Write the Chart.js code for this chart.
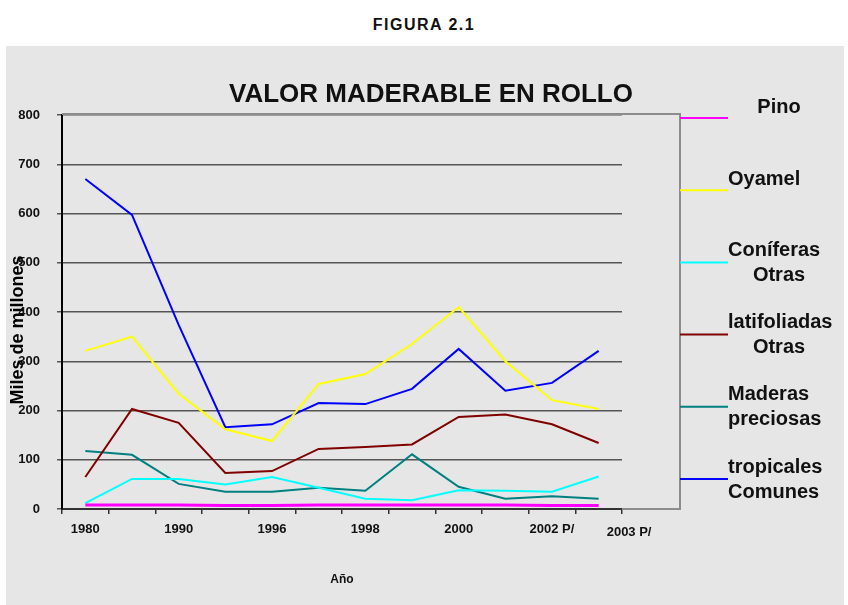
<!DOCTYPE html>
<html>
<head>
<meta charset="utf-8">
<script src="https://cdn.jsdelivr.net/npm/chart.js@4.4.0/dist/chart.umd.min.js"></script>
<style>
    body { margin: 0; background: #fff; font-family: "Liberation Sans", Arial, sans-serif; }
    #wrap { position: relative; width: 848px; height: 605px; }
    #panel { position: absolute; left: 6px; top: 46px; width: 838px; height: 559px; background: #e6e6e6; }
    #figura { position: absolute; left: 0; top: 16px; width: 848px; text-align: center; font-weight: bold; font-size: 16px; letter-spacing: 1.5px; color: #111; }
    canvas { position: absolute; left: 0; top: 0; }
</style>
</head>
<body>
<div id="wrap">
    <div id="panel"></div>
    <div id="figura">FIGURA 2.1</div>
    <canvas id="grafico" width="848" height="605"></canvas>
</div>
<script>
// años (12 categorias, etiqueta cada dos)
const anos = ['1980', '', '1990', '', '1996', '', '1998', '', '2000', '', '2002 P/', ''];
const ultimaEtiqueta = '2003 P/';

const pino = [8, 8, 8, 7, 7, 8, 8, 8, 8, 8, 7, 7];
const oyamel = [321, 350, 234, 162, 138, 254, 274, 335, 410, 300, 221, 203];
const coniferasOtras = [12, 61, 61, 50, 65, 43, 21, 18, 38, 37, 35, 66];
const latifoliadasOtras = [65, 203, 175, 73, 77, 122, 126, 131, 187, 192, 172, 134];
const maderasPreciosas = [118, 110, 51, 35, 35, 43, 37, 111, 45, 21, 26, 21];
const tropicalesComunes = [670, 597, 374, 166, 172, 215, 213, 244, 325, 240, 256, 321];

// texto de la leyenda (lineas y alineacion)
const leyenda = [
    [['Pino', 'center']],
    [['Oyamel', 'left']],
    [['Coníferas', 'left'], ['Otras', 'center']],
    [['latifoliadas', 'left'], ['Otras', 'center']],
    [['Maderas', 'left'], ['preciosas', 'left']],
    [['tropicales', 'left'], ['Comunes', 'left']],
];

const FONT = '"Liberation Sans", Arial, sans-serif';

function serie(label, data, color, ancho) {
    return {
        label: label,
        data: data,
        borderColor: color,
        backgroundColor: color,
        borderWidth: ancho || 2,
        pointRadius: 0,
        tension: 0,
        fill: false,
    };
}

const data = {
    labels: anos,
    datasets: [
        serie('Pino', pino, '#ff00ff', 3),
        serie('Oyamel', oyamel, '#ffff00'),
        serie('Coníferas Otras', coniferasOtras, '#00ffff'),
        serie('latifoliadas Otras', latifoliadasOtras, '#800000'),
        serie('Maderas preciosas', maderasPreciosas, '#008080'),
        serie('tropicales Comunes', tropicalesComunes, '#0000ff'),
    ]
}

// dibuja caja, titulo, leyenda y textos extra
const extras = {
    id: 'extras',
    afterDraw(chart) {
        const ctx = chart.ctx;
        const a = chart.chartArea;
        const cajaDerecha = a.right + 58;
        ctx.save();

        // caja del area de grafico
        ctx.strokeStyle = '#8c8c8c';
        ctx.lineWidth = 2;
        ctx.beginPath();
        ctx.moveTo(a.left, a.top - 1);
        ctx.lineTo(cajaDerecha, a.top - 1);
        ctx.lineTo(cajaDerecha, a.bottom);
        ctx.lineTo(a.right, a.bottom);
        ctx.stroke();

        // titulo
        ctx.fillStyle = '#111';
        ctx.font = 'bold 26px ' + FONT;
        ctx.textAlign = 'center';
        ctx.textBaseline = 'middle';
        ctx.fillText('VALOR MADERABLE EN ROLLO', chart.width / 2 + 7, a.top - 20);

        // leyenda
        const paso = (a.bottom - a.top - 33) / 5;
        chart.data.datasets.forEach(function (ds, i) {
            const y = a.top + 3 + paso * i;
            ctx.strokeStyle = ds.borderColor;
            ctx.lineWidth = 2;
            ctx.beginPath();
            ctx.moveTo(cajaDerecha, y);
            ctx.lineTo(cajaDerecha + 48, y);
            ctx.stroke();

            ctx.fillStyle = '#111';
            ctx.font = 'bold 20px ' + FONT;
            const lineas = leyenda[i];
            lineas.forEach(function (l, j) {
                const ly = lineas.length === 1 ? y - 11 : y - 12 + j * 25;
                if (l[1] === 'center') {
                    ctx.textAlign = 'center';
                    ctx.fillText(l[0], cajaDerecha + 99, ly);
                } else {
                    ctx.textAlign = 'left';
                    ctx.fillText(l[0], cajaDerecha + 48, ly);
                }
            });
        });

        // titulo eje Y
        ctx.save();
        ctx.translate(a.left - 44, a.top + 215);
        ctx.rotate(-Math.PI / 2);
        ctx.font = 'bold 18px ' + FONT;
        ctx.textAlign = 'center';
        ctx.fillStyle = '#000';
        ctx.fillText('Miles de millones', 0, 0);
        ctx.restore();

        // titulo eje X
        ctx.font = 'bold 12px ' + FONT;
        ctx.textAlign = 'center';
        ctx.fillText('Año', (a.left + a.right) / 2, a.bottom + 71);

        // etiqueta fuera del eje
        const xs = chart.scales.x;
        ctx.font = 'bold 13px ' + FONT;
        ctx.textAlign = 'left';
        ctx.fillText(ultimaEtiqueta, xs.getPixelForValue(anos.length - 1) + 8, a.bottom + 23);

        ctx.restore();
    }
}

const config = {
    type: 'line',
    data: data,
    options: {
        responsive: false,
        animation: false,
        layout: {
            padding: { left: 0, top: 115, right: 226, bottom: 0 }
        },
        plugins: {
            legend: { display: false },
            tooltip: { enabled: false }
        },
        scales: {
            x: {
                offset: true,
                grid: {
                    offset: true,
                    drawOnChartArea: false,
                    drawTicks: true,
                    tickLength: 5,
                    color: '#333',
                    lineWidth: 1.5
                },
                border: { color: '#333', width: 2 },
                ticks: {
                    autoSkip: false,
                    maxRotation: 0,
                    padding: 8,
                    color: '#111',
                    font: { family: FONT, size: 13, weight: 'bold' }
                },
                afterFit(scale) { scale.height = 96; }
            },
            y: {
                min: 0,
                max: 800,
                ticks: {
                    stepSize: 100,
                    padding: 17,
                    color: '#111',
                    font: { family: FONT, size: 13, weight: 'bold' }
                },
                grid: {
                    color: '#555',
                    lineWidth: 1.5,
                    tickLength: 5
                },
                border: { color: '#000', width: 2 },
                afterFit(scale) { scale.width = 62; }
            }
        }
    },
    plugins: [extras]
}

const grafico = new Chart(
    document.getElementById('grafico'),
    config
)
</script>
</body>
</html>
